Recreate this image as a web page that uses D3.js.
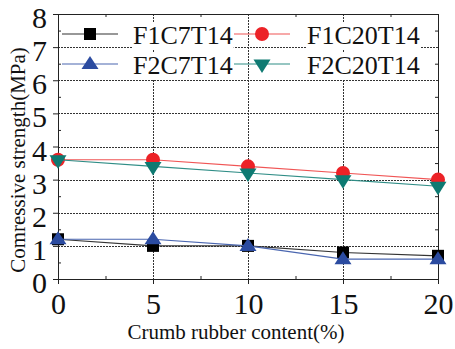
<!DOCTYPE html>
<html>
<head>
<meta charset="utf-8">
<script src="https://cdn.jsdelivr.net/npm/d3@7"></script>
<style>
  html, body { margin: 0; padding: 0; background: #fff; }
  svg { display: block; }
</style>
</head>
<body>
<script>
// Crumb rubber content (%) on the x axis
const rubberContent = [0, 5, 10, 15, 20];

// Compressive strength (MPa) for each mix
const f1c7t14  = [1.2, 1.0, 1.0, 0.8, 0.7];
const f1c20t14 = [3.6, 3.6, 3.4, 3.2, 3.0];
const f2c7t14  = [1.2, 1.2, 1.0, 0.6, 0.6];
const f2c20t14 = [3.6, 3.4, 3.2, 3.0, 2.8];

const seriesNames = ["F1C7T14", "F1C20T14", "F2C7T14", "F2C20T14"];

const xTicks = [0, 5, 10, 15, 20];
const yTicks = [0, 1, 2, 3, 4, 5, 6, 7, 8];

const W = 455, H = 349;
const plot = { left: 58, right: 438, top: 14, bottom: 279 };
const SERIF = "'Liberation Serif'";

const svg = d3.select("body").append("svg").attr("width", W).attr("height", H);

const x = d3.scaleLinear().domain([0, 20]).range([plot.left, plot.right]);
const y = d3.scaleLinear().domain([0, 8]).range([plot.bottom, plot.top]);

// Dotted grid
const grid = svg.append("g").attr("stroke", "#333").attr("stroke-width", 1)
  .attr("stroke-dasharray", "1.5,1.5").attr("shape-rendering", "crispEdges");
grid.selectAll("line.gx").data(xTicks.slice(1, -1)).join("line").attr("class", "gx")
  .attr("x1", d => Math.round(x(d)) + 0.5).attr("x2", d => Math.round(x(d)) + 0.5)
  .attr("y1", plot.top).attr("y2", plot.bottom);
grid.selectAll("line.gy").data(yTicks.slice(1, -1)).join("line").attr("class", "gy")
  .attr("y1", d => Math.round(y(d)) + 0.5).attr("y2", d => Math.round(y(d)) + 0.5)
  .attr("x1", plot.left).attr("x2", plot.right);

// Axes: major ticks outward, minor ticks inward
const xMinor = d3.range(2.5, 20, 5);
const yMinor = d3.range(0.5, 8, 1);

const bottomAxis = svg.append("g").attr("transform", `translate(0,${plot.bottom})`)
  .call(d3.axisBottom(x).tickValues(xTicks).tickSize(5).tickSizeOuter(0).tickPadding(9));
const leftAxis = svg.append("g").attr("transform", `translate(${plot.left},0)`)
  .call(d3.axisLeft(y).tickValues(yTicks).tickSize(5).tickSizeOuter(0).tickPadding(6));
svg.append("g").attr("transform", `translate(0,${plot.bottom})`)
  .call(d3.axisTop(x).tickValues(xMinor).tickSize(3).tickSizeOuter(0).tickFormat(""));
svg.append("g").attr("transform", `translate(${plot.left},0)`)
  .call(d3.axisRight(y).tickValues(yMinor).tickSize(3).tickSizeOuter(0).tickFormat(""));
svg.append("g").attr("transform", `translate(0,${plot.top})`)
  .call(d3.axisBottom(x).tickValues(xMinor).tickSize(3).tickSizeOuter(0).tickFormat(""));
svg.append("g").attr("transform", `translate(${plot.right},0)`)
  .call(d3.axisLeft(y).tickValues(yMinor).tickSize(3).tickSizeOuter(0).tickFormat(""));

svg.selectAll(".domain").remove();
svg.selectAll(".tick line").attr("stroke", "#222");

bottomAxis.selectAll("text").attr("fill", "#111")
  .style("font-size", "30px").style("font-family", SERIF);
leftAxis.selectAll("text").attr("fill", "#111").attr("dy", "0.45em")
  .style("font-size", "30px").style("font-family", SERIF);

// Frame
svg.append("rect").attr("x", plot.left + 0.5).attr("y", plot.top + 0.5)
  .attr("width", plot.right - plot.left).attr("height", plot.bottom - plot.top)
  .attr("fill", "none").attr("stroke", "#222").attr("stroke-width", 1);

// Axis titles
svg.append("text").attr("x", 236).attr("y", 339).attr("text-anchor", "middle")
  .attr("fill", "#111").style("font-size", "21px").style("font-family", SERIF)
  .text("Crumb rubber content(%)");
svg.append("text").attr("transform", "translate(25,160) rotate(-90)")
  .attr("text-anchor", "middle").attr("fill", "#111")
  .style("font-size", "21px").style("font-family", SERIF)
  .text("Comressive strength(MPa)");

// Marker shapes
const shapes = {
  square: "M-6,-6H6V6H-6Z",
  circle: d3.symbol(d3.symbolCircle, 154)(),
  up: "M0,-8L8.5,5L-8.5,5Z",
  down: "M-8.5,-4.5L8.5,-4.5L0,9Z"
};

const series = [
  { name: seriesNames[0], values: f1c7t14,  line: "#333333", fill: "#000000", shape: "square" },
  { name: seriesNames[1], values: f1c20t14, line: "#f05555", fill: "#ec2227", shape: "circle" },
  { name: seriesNames[2], values: f2c7t14,  line: "#4a66b0", fill: "#2b4ba0", shape: "up" },
  { name: seriesNames[3], values: f2c20t14, line: "#2f8d86", fill: "#0e7a72", shape: "down" }
];

const lineGen = d3.line().x((d, i) => x(rubberContent[i])).y(d => y(d));

series.forEach(s => {
  const g = svg.append("g");
  g.append("path").attr("d", lineGen(s.values)).attr("fill", "none")
    .attr("stroke", s.line).attr("stroke-width", 1.2);
  g.selectAll("path.m").data(s.values).join("path").attr("class", "m")
    .attr("transform", (d, i) => `translate(${x(rubberContent[i])},${y(d)})`)
    .attr("d", shapes[s.shape]).attr("fill", s.fill);
});

// Legend: two rows, two columns
const legendPos = [
  { lx: 62, ly: 34, tx: 133, ty: 44 },
  { lx: 234, ly: 34, tx: 307, ty: 44 },
  { lx: 62, ly: 64, tx: 133, ty: 74 },
  { lx: 234, ly: 64, tx: 307, ty: 74 }
];
const legend = svg.append("g");
series.forEach((s, i) => {
  const p = legendPos[i];
  const g = legend.append("g");
  const t = g.append("text").attr("x", p.tx).attr("y", p.ty).attr("fill", "#111")
    .style("font-size", "26px").style("font-family", SERIF).text(s.name);
  const bb = t.node().getBBox();
  g.insert("rect", "text").attr("x", bb.x - 1).attr("y", p.ty - 22)
    .attr("width", bb.width + 2).attr("height", 27).attr("fill", "#fff");
  g.append("line").attr("x1", p.lx).attr("x2", p.lx + 56).attr("y1", p.ly).attr("y2", p.ly)
    .attr("stroke", s.line).attr("stroke-width", 1.2);
  g.append("path").attr("transform", `translate(${p.lx + 28},${p.ly})`)
    .attr("d", shapes[s.shape]).attr("fill", s.fill);
});
</script>
</body>
</html>
